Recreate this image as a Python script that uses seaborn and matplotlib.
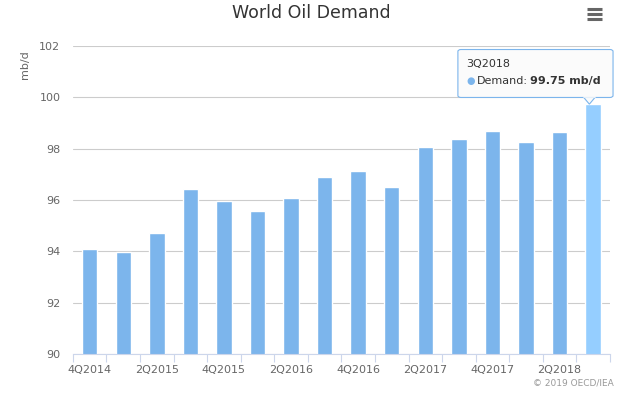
import numpy as np
import pandas as pd
import matplotlib
matplotlib.use("Agg")
import matplotlib.pyplot as plt
from matplotlib.patches import FancyBboxPatch, Polygon
from matplotlib.lines import Line2D
import seaborn as sns

quarters = ["4Q2014", "1Q2015", "2Q2015", "3Q2015", "4Q2015", "1Q2016", "2Q2016", "3Q2016",
            "4Q2016", "1Q2017", "2Q2017", "3Q2017", "4Q2017", "1Q2018", "2Q2018", "3Q2018"]
demand = [94.08, 93.96, 94.7, 96.43, 95.96, 95.57, 96.08, 96.88,
          97.12, 96.52, 98.05, 98.36, 98.68, 98.25, 98.64, 99.75]
y_ticks = [90, 92, 94, 96, 98, 100, 102]

sns.set_theme(style="white")
plt.rcParams['font.family'] = ['DejaVu Sans']

data = pd.DataFrame({"Quarter": quarters, "Demand": demand})
colors = ["#7cb5ec"] * (len(quarters) - 1) + ["#95ceff"]  # last bar hovered

fig = plt.figure(figsize=(6.23, 3.93), dpi=100)
ax = fig.add_axes([0.117, 0.099, 0.862, 0.784])

sns.barplot(data=data, x="Quarter", y="Demand", hue="Quarter", palette=colors,
            legend=False, width=0.46, ax=ax, saturation=1)

ax.set_ylim(90, 102)
ax.set_xlim(-0.5, len(quarters) - 0.5)
ax.set_yticks(y_ticks)
ax.set_yticklabels([str(t) for t in y_ticks], fontsize=8, color="#666666")
ax.yaxis.grid(True, color="#cccccc", linewidth=0.8)
ax.set_axisbelow(True)

# labels on every other bar, tick marks at category boundaries
ax.set_xticks(range(0, len(quarters), 2))
ax.set_xticklabels(quarters[::2], fontsize=8, color="#666666")
ax.tick_params(axis="x", which="major", length=0, pad=8)
ax.set_xticks(np.arange(-0.5, len(quarters), 1), minor=True)
ax.tick_params(axis="x", which="minor", length=6, color="#ccd6eb", width=0.8, bottom=True)
ax.tick_params(axis="y", length=0, pad=9)

for s in ["top", "right", "left"]:
    ax.spines[s].set_visible(False)
ax.spines["bottom"].set_color("#ccd6eb")
ax.spines["bottom"].set_linewidth(0.8)

ax.set_xlabel("")
ax.set_ylabel("mb/d", fontsize=8, color="#666666")
ax.yaxis.set_label_coords(-0.08, 0.94)

fig.text(0.5, 0.967, "World Oil Demand", ha="center", va="center", fontsize=12.5, color="#333333")
fig.text(0.985, 0.015, "\u00a9 2019 OECD/IEA", ha="right", va="bottom", fontsize=6.5, color="#999999")

# hamburger menu icon
for yy in [0.978, 0.965, 0.952]:
    fig.add_artist(Line2D([0.943, 0.967], [yy, yy], transform=fig.transFigure,
                          color="#666666", linewidth=2.2, solid_capstyle="butt"))

# tooltip
box = FancyBboxPatch((0.735, 0.752), 0.249, 0.122, boxstyle="round,pad=0,rounding_size=0.005",
                     transform=fig.transFigure, facecolor="#fbfbfb", edgecolor="#7cb5ec",
                     linewidth=0.8)
fig.add_artist(box)
arrow = Polygon([[0.937, 0.752], [0.955, 0.752], [0.946, 0.735]], closed=True,
                transform=fig.transFigure, facecolor="#fbfbfb", edgecolor="#7cb5ec", linewidth=0.8)
fig.add_artist(arrow)
fig.add_artist(Line2D([0.9375, 0.9545], [0.752, 0.752], transform=fig.transFigure,
                      color="#fbfbfb", linewidth=1.2))
fig.text(0.748, 0.838, "3Q2018", fontsize=8, color="#333333", va="center")
fig.text(0.748, 0.793, "\u25cf", fontsize=7, color="#7cb5ec", va="center")
fig.text(0.766, 0.793, "Demand:", fontsize=8, color="#333333", va="center")
fig.text(0.851, 0.793, "99.75 mb/d", fontsize=8, color="#333333", va="center", fontweight="bold")

fig.savefig("out.png", dpi=100)
